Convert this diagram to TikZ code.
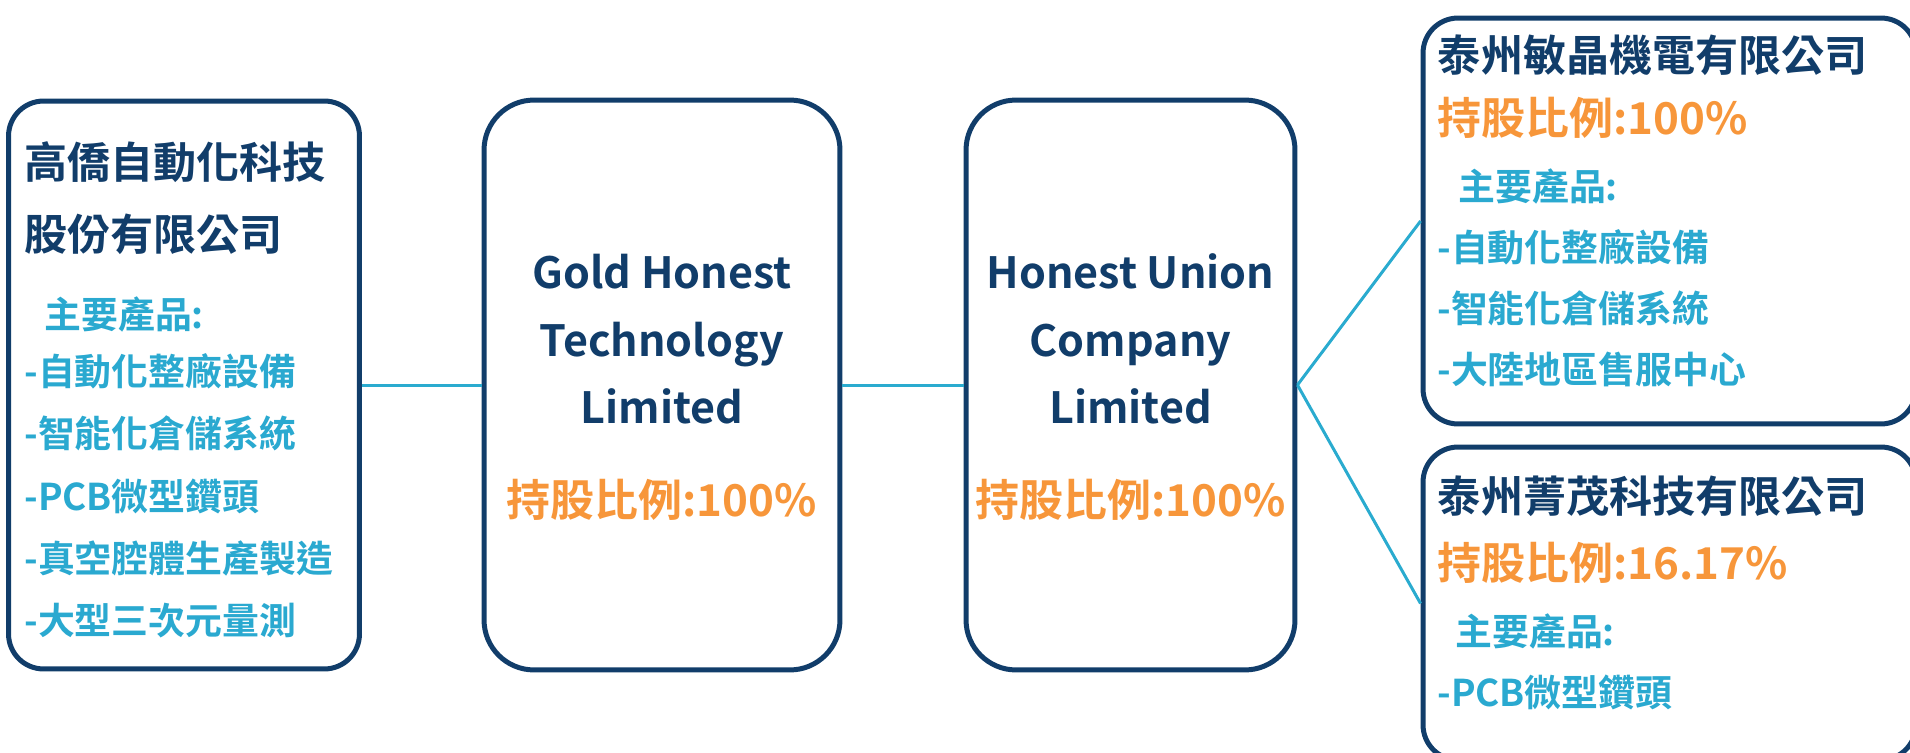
\documentclass[tikz,border=0pt]{standalone}
\usepackage{fontspec}
\setmainfont{Noto Sans CJK TC}[BoldFont={Noto Sans CJK TC Bold}]
\usepackage{tikz}
\usetikzlibrary{positioning}

\definecolor{boxnavy}{HTML}{113D6A}
\definecolor{itemblue}{HTML}{2AA9D0}
\definecolor{shareorange}{HTML}{F7963A}
\definecolor{linkblue}{HTML}{2AABCF}

\begin{document}
\begin{tikzpicture}[x=0.02cm, y=-0.02cm,
  company/.style={draw=boxnavy, line width=0.1cm, rounded corners=0.7cm, inner sep=0},
  compname/.style={text=boxnavy, font=\bfseries\fontsize{24.5}{28}\selectfont, inner sep=0},
  share/.style={text=shareorange, font=\bfseries\fontsize{25}{28}\selectfont, inner sep=0},
  item/.style={text=itemblue, font=\bfseries\fontsize{21}{24}\selectfont, inner sep=0, anchor=west},
  link/.style={draw=linkblue, line width=0.06cm}]

\clip (0,0) rectangle (1910,753);

% boxes
\node[company, minimum width=7.02cm, minimum height=11.36cm] (kq) at (184,385) {};
\node[company, minimum width=7.12cm, minimum height=11.4cm, rounded corners=1cm] (gold) at (662,385) {};
\node[company, minimum width=6.58cm, minimum height=11.4cm, rounded corners=1cm] (union) at (1130.5,385) {};
\node[company, minimum width=9.86cm, minimum height=8.12cm] (minjing) at (1669.5,221) {};
\node[company, minimum width=9.86cm, minimum height=6.26cm] (jingmao) at (1669.5,603.5) {};

% kq
\node[compname, anchor=west] (kq-name1) at (24,162) {高僑自動化科技};
\node[compname, anchor=west] (kq-name2) at (24,234) {股份有限公司};
\node[item] (kq-prod) at (44,314) {主要產品:};
\foreach \t [count=\i] in {-自動化整廠設備,-智能化倉儲系統,-PCB微型鑽頭,-真空腔體生產製造,-大型三次元量測}
  \node[item] (kq-item\i) at (24,371+62.5*\i-62.5) {\t};

% gold honest
\node[compname, anchor=base] (gold-name1) at (662,289) {Gold Honest};
\node[compname, anchor=base] (gold-name2) at (662,356) {Technology};
\node[compname, anchor=base] (gold-name3) at (662,423) {Limited};
\node[share, anchor=base] (gold-share) at (662,516) {持股比例:100\%};

% honest union
\node[compname, anchor=base] (union-name1) at (1130.5,289) {Honest Union};
\node[compname, anchor=base] (union-name2) at (1130.5,356) {Company};
\node[compname, anchor=base] (union-name3) at (1130.5,423) {Limited};
\node[share, anchor=base] (union-share) at (1130.5,516) {持股比例:100\%};

% minjing
\node[compname, anchor=west] (minjing-name) at (1437,55) {泰州敏晶機電有限公司};
\node[share, anchor=west] (minjing-share) at (1437,118) {持股比例:100\%};
\node[item] (minjing-prod) at (1458,186) {主要產品:};
\foreach \t [count=\i] in {-自動化整廠設備,-智能化倉儲系統,-大陸地區售服中心}
  \node[item] (minjing-item\i) at (1437,247+61*\i-61) {\t};

% jingmao
\node[compname, anchor=west] (jingmao-name) at (1437,496) {泰州菁茂科技有限公司};
\node[share, anchor=west] (jingmao-share) at (1437,563) {持股比例:16.17\%};
\node[item] (jingmao-prod) at (1455,631) {主要產品:};
\node[item] (jingmao-item1) at (1437,692) {-PCB微型鑽頭};

% links
\draw[link] (kq.east) -- (gold.west);
\draw[link] (gold.east) -- (union.west);
\draw[link] (union.east) -- (minjing.west);
\draw[link] (union.east) -- (jingmao.west);

\end{tikzpicture}
\end{document}
